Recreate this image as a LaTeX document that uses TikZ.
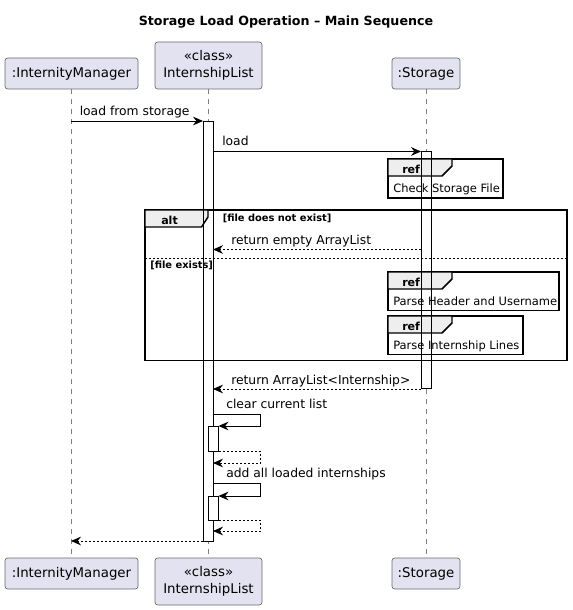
\documentclass[tikz,border=0pt]{standalone}
\usepackage{fontspec}
\setmainfont{DejaVu Sans}
\usetikzlibrary{arrows.meta}
\definecolor{partfill}{HTML}{E2E2F0}
\definecolor{partborder}{HTML}{6A6A6A}
\definecolor{tabfill}{HTML}{EEEEEE}
\tikzset{
  part/.style={draw=partborder, fill=partfill, rounded corners=2pt, line width=0.5pt,
    font=\fontsize{10}{13}\selectfont, align=center, inner sep=0pt},
  lifeline/.style={draw=gray, line width=0.5pt, dash pattern=on 3.75pt off 3.75pt},
  actfill/.style={fill=white, draw=none},
  actline/.style={draw=black, line width=0.75pt},
  msg/.style={draw=black, line width=0.75pt, -{Stealth[length=7.5pt,width=6.5pt,inset=2.5pt]}},
  ret/.style={msg, dash pattern=on 1.5pt off 1.5pt},
  lbl/.style={anchor=base west, inner sep=0pt, font=\fontsize{9.25}{11}\selectfont},
  frameline/.style={draw=black, line width=1.1pt},
  tabshape/.style={fill=tabfill, draw=black, line width=1.1pt},
  guard/.style={anchor=base west, inner sep=0pt, font=\bfseries\fontsize{7.4}{9}\selectfont},
  tabtext/.style={anchor=base west, inner sep=0pt, font=\bfseries\fontsize{8.3}{10}\selectfont},
  reftext/.style={anchor=base west, inner sep=0pt, font=\fontsize{8.6}{10}\selectfont},
}
\newcommand\myrefbox[6]{%
  \draw[frameline, fill=white] (#1,#2) rectangle (#3,#4);
  \draw[tabshape] (#1,#2) -- (#1+64,#2) -- (#1+64,#2+7) -- (#1+54,#2+17) -- (#1,#2+17) -- cycle;
  \node[tabtext] (#6tab) at (#1+14,#2+14) {ref};
  \node[reftext] (#6txt) at (#1+5,#2+33) {#5};
}
\begin{document}
\begin{tikzpicture}[x=0.75pt,y=-0.75pt]
\useasboundingbox (0,0) rectangle (572,610);

% title
\node[font=\bfseries\fontsize{9.5}{11}\selectfont] (title) at (286,22) {Storage Load Operation – Main Sequence};

% participants
\node[part, minimum width=99.75pt, minimum height=23.25pt] (imTop) at (71.5,73.5) {:InternityManager};
\node[part, minimum width=80.25pt, minimum height=35.25pt] (ilTop) at (208.5,65.5) {«class»\\InternshipList};
\node[part, minimum width=51pt, minimum height=23.25pt] (stTop) at (426,73.5) {:Storage};
\node[part, minimum width=99.75pt, minimum height=23.25pt] (imBot) at (71.5,573.5) {:InternityManager};
\node[part, minimum width=80.25pt, minimum height=35.25pt] (ilBot) at (208.5,581.5) {«class»\\InternshipList};
\node[part, minimum width=51pt, minimum height=23.25pt] (stBot) at (426,573.5) {:Storage};

% lifelines
\coordinate (imA) at (71,89); \coordinate (imB) at (71,558);
\coordinate (ilA) at (208,89); \coordinate (ilB) at (208,558);
\coordinate (stA) at (426,89); \coordinate (stB) at (426,558);
\draw[lifeline] (imA) -- (imB);
\draw[lifeline] (ilA) -- (ilB);
\draw[lifeline] (stA) -- (stB);

% activation fills
\fill[actfill] (203,121) rectangle (213,541);
\fill[actfill] (421,151) rectangle (431,388);

% alt frame
\draw[frameline] (145,210) rectangle (567,360.5);
\draw[tabshape] (145,210) -- (208,210) -- (208,217) -- (201.5,227) -- (145,227) -- cycle;
\node[tabtext] (altlbl) at (161,224) {alt};
\node[guard] (g1) at (222.5,221) {[file does not exist]};
\draw[draw=black, line width=0.75pt, dash pattern=on 1.5pt off 1.5pt] (145,258) -- (567,258);
\node[guard] (g2) at (150,268) {[file exists]};

% ref boxes
\myrefbox{388}{159}{503}{198}{Check Storage File}{r1}
\myrefbox{388}{272}{559}{310.5}{Parse Header and Username}{r2}
\myrefbox{388}{316}{523}{354.5}{Parse Internship Lines}{r3}

% activation outlines
\draw[actline] (203,121) rectangle (213,541);
\draw[actline] (421,151) rectangle (431,388);
\draw[actline, fill=white] (208,426) rectangle (218.5,451);
\draw[actline, fill=white] (208,496) rectangle (218.5,520);

% messages
\coordinate (m1s) at (71,121); \coordinate (m1e) at (203,121);
\draw[msg] (m1s) -- (m1e);
\node[lbl] (m1l) at (79.5,115.5) {load from storage};

\coordinate (m2s) at (213,151.5); \coordinate (m2e) at (421,151.5);
\draw[msg] (m2s) -- (m2e);
\node[lbl] (m2l) at (222,145.7) {load};

\coordinate (m3s) at (421,249.5); \coordinate (m3e) at (213,249.5);
\draw[ret] (m3s) -- (m3e);
\node[lbl] (m3l) at (231,244.3) {return empty ArrayList};

\coordinate (m4s) at (421,389); \coordinate (m4e) at (213,389);
\draw[ret] (m4s) -- (m4e);
\node[lbl] (m4l) at (231,384.5) {return ArrayList<Internship>};

\coordinate (s1s) at (213,414); \coordinate (s1a) at (260,414); \coordinate (s1b) at (260,426); \coordinate (s1e) at (218.5,426);
\draw[msg] (s1s) -- (s1a) -- (s1b) -- (s1e);
\node[lbl] (s1l) at (226,408.3) {clear current list};

\coordinate (r1s) at (218.5,451); \coordinate (r1a) at (260,451); \coordinate (r1b) at (260,463); \coordinate (r1e) at (213,463);
\draw[ret] (r1s) -- (r1a) -- (r1b) -- (r1e);

\coordinate (s2s) at (213,483); \coordinate (s2a) at (260,483); \coordinate (s2b) at (260,496); \coordinate (s2e) at (218.5,496);
\draw[msg] (s2s) -- (s2a) -- (s2b) -- (s2e);
\node[lbl] (s2l) at (226,477.3) {add all loaded internships};

\coordinate (r2s) at (218.5,520); \coordinate (r2a) at (260,520); \coordinate (r2b) at (260,531); \coordinate (r2e) at (213,531);
\draw[ret] (r2s) -- (r2a) -- (r2b) -- (r2e);

\coordinate (fs) at (203,541); \coordinate (fe) at (71,541);
\draw[ret] (fs) -- (fe);
\end{tikzpicture}
\end{document}
